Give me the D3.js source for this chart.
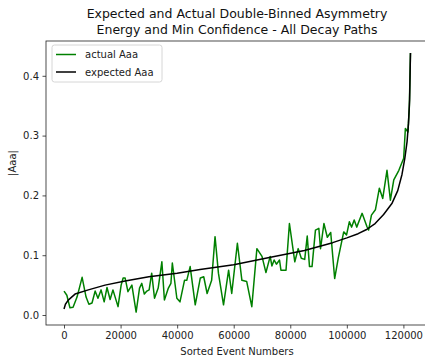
<!DOCTYPE html>
<html>
<head>
<meta charset="utf-8">
<script src="https://cdn.jsdelivr.net/npm/d3@7"></script>
<style>
  body { margin: 0; background: #fff; }
  svg { display: block; font-family: "DejaVu Sans", sans-serif; }
</style>
</head>
<body>
<div id="chart"></div>
<script>
// actual Aaa (event number, |Aaa|)
const actualX = [0, 1000, 2100, 3200, 4600, 6400, 7800, 8800, 9900, 11000, 12000, 13100, 14200, 15200,
  16300, 17300, 19100, 20200, 20900, 21600, 22600, 24000, 25500, 26700, 27500, 28400, 29300, 30100,
  31000, 32000, 33300, 34600, 35500, 36900, 37800, 38300, 39900, 41000, 42600, 43400, 44600, 46400,
  48200, 49400, 50600, 52200, 53400, 54600, 56400, 58200, 59300, 61300, 62900, 64600, 66400, 68200,
  70000, 71400, 72900, 73500, 74300, 75100, 76200, 76700, 78500, 79700, 81600, 82800, 83900, 85100,
  86000, 86800, 87700, 88900, 90100, 90700, 91900, 93100, 94300, 95700, 97000, 98900, 99900, 100900,
  101700, 102600, 103500, 105400, 107100, 107700, 108700, 110100, 111500, 112700, 114200, 115400,
  116600, 118400, 120100, 120700, 121600, 122100, 122500];
const actualY = [0.040, 0.033, 0.012, 0.013, 0.030, 0.063, 0.030, 0.018, 0.020, 0.040, 0.028, 0.042, 0.022, 0.046,
  0.026, 0.042, 0.014, 0.050, 0.062, 0.062, 0.039, 0.050, 0.005, 0.045, 0.053, 0.035, 0.040, 0.042,
  0.070, 0.028, 0.045, 0.089, 0.025, 0.045, 0.053, 0.087, 0.028, 0.022, 0.058, 0.058, 0.081, 0.017,
  0.062, 0.064, 0.036, 0.058, 0.131, 0.070, 0.017, 0.075, 0.036, 0.120, 0.058, 0.056, 0.014, 0.111,
  0.098, 0.071, 0.098, 0.082, 0.092, 0.085, 0.092, 0.075, 0.075, 0.153, 0.089, 0.111, 0.095, 0.093,
  0.132, 0.081, 0.081, 0.142, 0.145, 0.111, 0.153, 0.130, 0.138, 0.061, 0.096, 0.139, 0.134, 0.156,
  0.147, 0.159, 0.147, 0.170, 0.148, 0.142, 0.167, 0.176, 0.212, 0.195, 0.242, 0.192,
  0.226, 0.242, 0.262, 0.312, 0.306, 0.348, 0.438];

// expected Aaa
const expectedX = [0, 500, 1500, 3900, 8600, 14500, 21600, 30000, 40000, 48100, 60000, 72600, 85000,
  95000, 100000, 104000, 107000, 110000, 113000, 116000, 118000, 119500, 120500, 121300, 121800, 122200, 122500];
const expectedY = [0.010, 0.018, 0.025, 0.035, 0.042, 0.050, 0.057, 0.064, 0.070, 0.076, 0.084, 0.096, 0.108,
  0.121, 0.129, 0.136, 0.143, 0.153, 0.168, 0.187, 0.208, 0.235, 0.262, 0.290, 0.320, 0.360, 0.438];

const xTicks = [0, 20000, 40000, 60000, 80000, 100000, 120000];
const yTicks = [0.0, 0.1, 0.2, 0.3, 0.4];

const titleLines = ["Expected and Actual Double-Binned Asymmetry", "Energy and Min Confidence - All Decay Paths"];

const width = 425, height = 356;
const plot = { left: 46, right: 428, top: 41, bottom: 325 };

const svg = d3.select("#chart").append("svg")
  .attr("width", width)
  .attr("height", height);

const x = d3.scaleLinear().domain([-6370, 128700]).range([plot.left, plot.right]);
const y = d3.scaleLinear().domain([-0.0167, 0.4582]).range([plot.bottom, plot.top]);

// axes
const xAxis = svg.append("g")
  .attr("transform", `translate(0,${plot.bottom})`)
  .call(d3.axisBottom(x).tickValues(xTicks).tickFormat(d => d).tickSize(3.5).tickPadding(3.5));
const yAxis = svg.append("g")
  .attr("transform", `translate(${plot.left},0)`)
  .call(d3.axisLeft(y).tickValues(yTicks).tickFormat(d3.format(".1f")).tickSize(3.5).tickPadding(3.5));
[xAxis, yAxis].forEach(g => {
  g.select(".domain").remove();
  g.selectAll("text").attr("font-size", 10).attr("fill", "#222").attr("font-family", "DejaVu Sans");
  g.selectAll("line").attr("stroke", "#222").attr("stroke-width", 0.8);
});

const line = d3.line().x(d => x(d[0])).y(d => y(d[1]));

svg.append("path")
  .datum(actualX.map((v, i) => [v, actualY[i]]))
  .attr("d", line)
  .attr("fill", "none")
  .attr("stroke", "#008000")
  .attr("stroke-width", 1.5)
  .attr("stroke-linejoin", "round");

svg.append("path")
  .datum(expectedX.map((v, i) => [v, expectedY[i]]))
  .attr("d", line)
  .attr("fill", "none")
  .attr("stroke", "#000")
  .attr("stroke-width", 1.5)
  .attr("stroke-linejoin", "round");

// frame
svg.append("rect")
  .attr("x", plot.left).attr("y", plot.top)
  .attr("width", plot.right - plot.left).attr("height", plot.bottom - plot.top)
  .attr("fill", "none").attr("stroke", "#222").attr("stroke-width", 0.8);

// titles and labels
svg.append("g").selectAll("text")
  .data(titleLines)
  .join("text")
  .attr("x", (plot.left + plot.right) / 2)
  .attr("y", (d, i) => 18 + i * 16)
  .attr("text-anchor", "middle")
  .attr("font-size", 12.5)
  .attr("fill", "#111")
  .text(d => d);

svg.append("text")
  .attr("x", (plot.left + plot.right) / 2)
  .attr("y", 355)
  .attr("text-anchor", "middle")
  .attr("font-size", 10)
  .attr("fill", "#222")
  .text("Sorted Event Numbers");

svg.append("text")
  .attr("transform", "translate(16,163) rotate(-90)")
  .attr("text-anchor", "middle")
  .attr("font-size", 10)
  .attr("fill", "#222")
  .text("|Aaa|");

// legend
const legend = svg.append("g");
legend.append("rect")
  .attr("x", 52).attr("y", 45)
  .attr("width", 110).attr("height", 37)
  .attr("rx", 2.5)
  .attr("fill", "#fff").attr("fill-opacity", 0.8)
  .attr("stroke", "#ccc").attr("stroke-width", 0.8);
const legendItems = [{ label: "actual Aaa", color: "#008000" }, { label: "expected Aaa", color: "#000" }];
legendItems.forEach((d, i) => {
  const ly = 54.5 + i * 17.5;
  legend.append("line")
    .attr("x1", 56).attr("x2", 76).attr("y1", ly).attr("y2", ly)
    .attr("stroke", d.color).attr("stroke-width", 1.5);
  legend.append("text")
    .attr("x", 85).attr("y", ly + 3.5)
    .attr("font-size", 10)
    .attr("fill", "#222")
    .text(d.label);
});
</script>
</body>
</html>
